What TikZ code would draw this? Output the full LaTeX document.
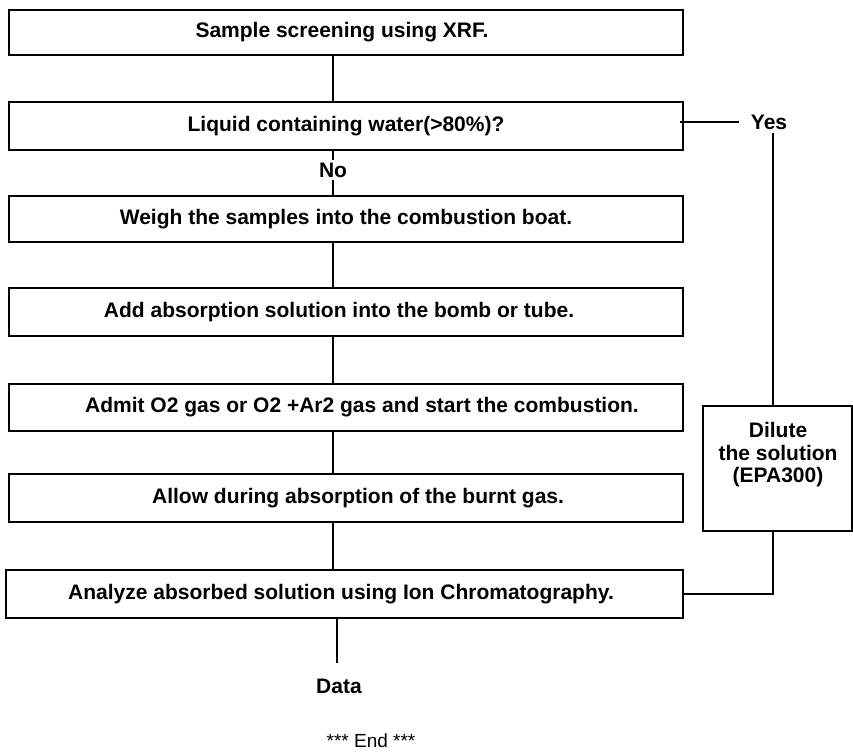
\documentclass[tikz,border=0pt]{standalone}
\usepackage{fontspec}
\setmainfont{Liberation Sans}
\begin{document}
\begin{tikzpicture}[x=1pt,y=-1pt,
  box/.style={draw, line width=1.6pt, minimum height=47pt, inner sep=0pt,
              font=\bfseries\fontsize{21}{25}\selectfont},
  conn/.style={line width=1.3pt},
  lbl/.style={inner sep=0pt, font=\bfseries\fontsize{21}{25}\selectfont}]
\useasboundingbox[fill=white] (0,0) rectangle (853,754);
% main column
\node[box, minimum width=674pt, minimum height=45pt] (b1) at (346,32.5) {Sample screening using XRF.\hspace*{8pt}};
\node[box, minimum width=674pt, minimum height=48pt] (b2) at (346,126) {Liquid containing water(>80\%)?};
\node[box, minimum width=674pt, minimum height=46pt] (b3) at (346,219) {Weigh the samples into the combustion boat.};
\node[box, minimum width=674pt, minimum height=48pt] (b4) at (346,312) {Add absorption solution into the bomb or tube.\hspace*{14pt}};
\node[box, minimum width=674pt, minimum height=47pt] (b5) at (346,407.5) {\hspace*{32pt}Admit O2 gas or O2 +Ar2 gas and start the combustion.};
\node[box, minimum width=674pt, minimum height=48pt] (b6) at (346,498) {\hspace*{24pt}Allow during absorption of the burnt gas.};
\node[box, minimum width=677pt, minimum height=48pt] (b7) at (344.5,594) {Analyze absorbed solution using Ion Chromatography.\hspace*{7pt}};
% side
\node[box, minimum width=149pt, minimum height=125pt] (dil) at (777.5,468.5) {};
\node[lbl, align=center] (diltext) at (778,455) {Dilute\\[-2.5pt]the solution\\[-2.5pt](EPA300)};
\node[lbl] (yes) at (769,122) {Yes};
\node[lbl, inner sep=2pt] (no) at (333,170) {No};
\node[lbl] (data) at (339,686) {Data};
\node[inner sep=0pt, font=\fontsize{19}{22}\selectfont] (end) at (371,741) {*** End ***};
% guide coordinates
\coordinate (cx) at (333,0);
\coordinate (dx) at (337,0);
\coordinate (vx) at (773,0);
\coordinate (dataend) at (337,663);
% connectors
\draw[conn] (b1.south -| cx) -- (b2.north -| cx);
\draw[conn] (b2.south -| cx) -- (no.north -| cx);
\draw[conn] (no.south -| cx) -- (b3.north -| cx);
\draw[conn] (b3.south -| cx) -- (b4.north -| cx);
\draw[conn] (b4.south -| cx) -- (b5.north -| cx);
\draw[conn] (b5.south -| cx) -- (b6.north -| cx);
\draw[conn] (b6.south -| cx) -- (b7.north -| cx);
\draw[conn] (b7.south -| dx) -- (dataend);
\draw[conn] ([xshift=-4pt,yshift=4pt]b2.east) -- ([xshift=-12pt]yes.west);
\draw[conn] ([yshift=-3pt]yes.south -| vx) -- (dil.north -| vx);
\draw[conn] (dil.south -| vx) |- (b7.east);
\end{tikzpicture}
\end{document}
